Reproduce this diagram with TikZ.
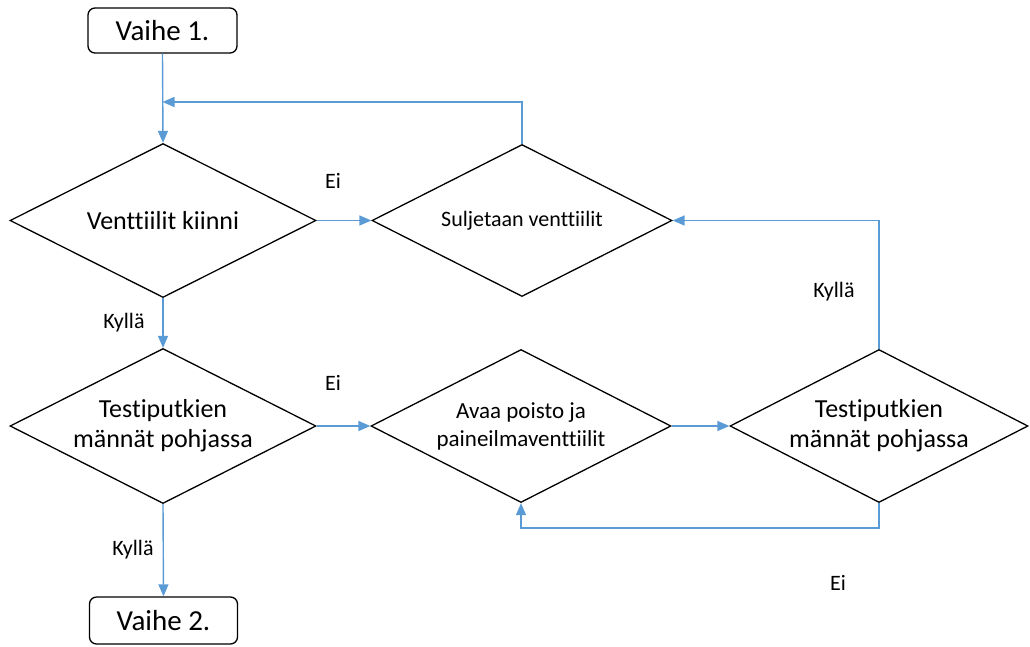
\documentclass[tikz,border=0pt]{standalone}
\usepackage{fontspec}
\setmainfont{Carlito}[Ligatures=NoCommon]
\usetikzlibrary{shapes.geometric,arrows.meta}
\definecolor{flowblue}{RGB}{91,155,213}
\tikzset{
  stagebox/.style={draw=black, line width=1.3pt, rounded corners=7pt, fill=white,
    inner sep=0pt, font=\fontsize{29}{32}\selectfont},
  decision/.style={draw=black, line width=1.3pt, shape=diamond, aspect=2,
    inner sep=0pt, align=center},
  flow/.style={draw=flowblue, line width=1.4pt, -{Triangle[length=12pt,width=10pt]}},
  answer/.style={font=\fontsize{22}{26}\selectfont}
}
\begin{document}
\begin{tikzpicture}[x=1pt,y=-1pt]
\useasboundingbox (0,0) rectangle (1030,646);

% start and end stages
\node[stagebox, minimum width=149pt, minimum height=45pt] (v1) at (162.5,30.5) {Vaihe 1.};
\node[stagebox, minimum width=148pt, minimum height=47pt] (v2) at (163.5,620.5) {Vaihe 2.};

% decisions and actions
\node[decision, minimum width=306pt, minimum height=154pt,
      font=\fontsize{26}{30}\selectfont] (d1) at (163,220.5) {Venttiilit kiinni};
\node[decision, minimum width=300pt, minimum height=152pt,
      font=\fontsize{22}{26}\selectfont] (d2) at (522,220.5) {Suljetaan venttiilit};
\node[decision, minimum width=306pt, minimum height=155pt,
      font=\fontsize{26}{30}\selectfont] (d3) at (163,426) {Testiputkien\\männät pohjassa};
\node[decision, minimum width=300pt, minimum height=153pt,
      font=\fontsize{23}{28}\selectfont] (d4) at (521,426) {Avaa poisto ja\\paineilmaventtiilit};
\node[decision, minimum width=298pt, minimum height=153pt,
      font=\fontsize{26}{30}\selectfont] (d5) at (879,426) {Testiputkien\\männät pohjassa};

% bend points of the loops
\coordinate (loopA) at (522,102);
\coordinate (loopB) at (879,220.5);
\coordinate (loopC) at (879,528);

% connectors
\draw[flow] (v1.south) -- (d1.north);
\draw[flow] (d2.north) -- (loopA) -- (v1.south |- loopA);
\draw[flow] (d1.east) -- (d2.west);
\draw[flow] (d5.north) -- (loopB) -- (d2.east);
\draw[flow] (d1.south) -- (d3.north);
\draw[flow] (d3.east) -- (d4.west);
\draw[flow] (d4.east) -- (d5.west);
\draw[flow] (d5.south) -- (loopC) -- (d4.south |- loopC) -- (d4.south);
\draw[flow] (d3.south) -- (v2.north);

% branch labels
\node[answer] (ei1) at (333,181) {Ei};
\node[answer] (ei2) at (333,383) {Ei};
\node[answer] (ky1) at (124,323) {Kyllä};
\node[answer] (ky2) at (133,550) {Kyllä};
\node[answer] (ky3) at (834,292) {Kyllä};
\node[answer] (ei3) at (838,583) {Ei};
\end{tikzpicture}
\end{document}
